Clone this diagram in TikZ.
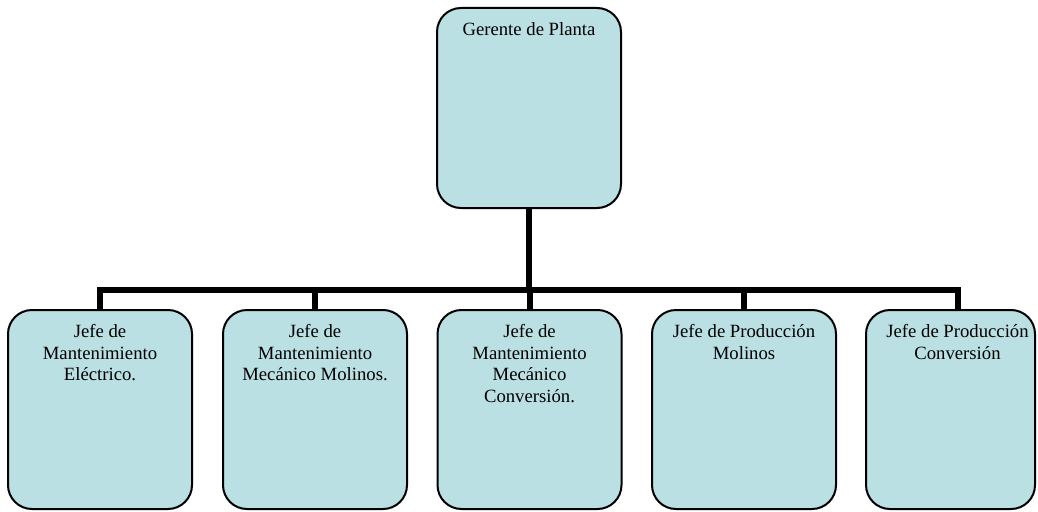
\documentclass[tikz,border=0pt]{standalone}
\usepackage{fontspec}
\setmainfont{Liberation Serif}
\usetikzlibrary{backgrounds}
\definecolor{boxfill}{RGB}{186,224,227}
\tikzset{
  x=1pt, y=-1pt,
  unit/.style={draw=black, line width=2pt, fill=boxfill, rounded corners=24pt,
               minimum width=#1, minimum height=199pt, inner sep=0pt},
  unit/.default=184pt,
  caption/.style={anchor=north, align=center, inner sep=0pt, yshift=-15.5pt,
                  font=\fontsize{18.7}{21.5}\selectfont},
  conn/.style={draw=black, line width=6pt, line join=miter},
}
\begin{document}
\begin{tikzpicture}
\useasboundingbox (0,0) rectangle (1038,511);

% top box
\node[unit, minimum height=200pt] (gp) at (529,108)
  {};
\node[caption] (gpt) at (gp.north) {Gerente de Planta};

% second level
\node[unit] (e1) at (100,409.5) {};
\node[unit] (e2) at (315,409.5) {};
\node[unit] (e3) at (529.5,409.5) {};
\node[unit] (e4) at (744,409.5) {};
\node[unit=169pt] (e5) at (950.5,409.5) {};

\node[caption] (e1t) at (e1.north) {Jefe de\\Mantenimiento\\Eléctrico.};
\node[caption] (e2t) at (e2.north) {Jefe de\\Mantenimiento\\Mecánico Molinos.};
\node[caption] (e3t) at (e3.north) {Jefe de\\Mantenimiento\\Mecánico\\Conversión.};
\node[caption] (e4t) at (e4.north) {Jefe de Producción\\Molinos};
\node[caption, xshift=7pt] (e5t) at (e5.north) {Jefe de Producción\\Conversión};

% drop point above the last box and the bus line
\coordinate (d5) at ([xshift=7.5pt]e5.north);
\coordinate (bus) at (0,290);

\begin{scope}[on background layer]
  \draw[conn] (gp.south) -- (gp.south |- bus);
  \draw[conn] (e1.north) -- (e1.north |- bus) -- (d5 |- bus) -- (d5);
  \draw[conn] (e2.north) -- (e2.north |- bus);
  \draw[conn] (e3.north) -- (e3.north |- bus);
  \draw[conn] (e4.north) -- (e4.north |- bus);
\end{scope}
\end{tikzpicture}
\end{document}
